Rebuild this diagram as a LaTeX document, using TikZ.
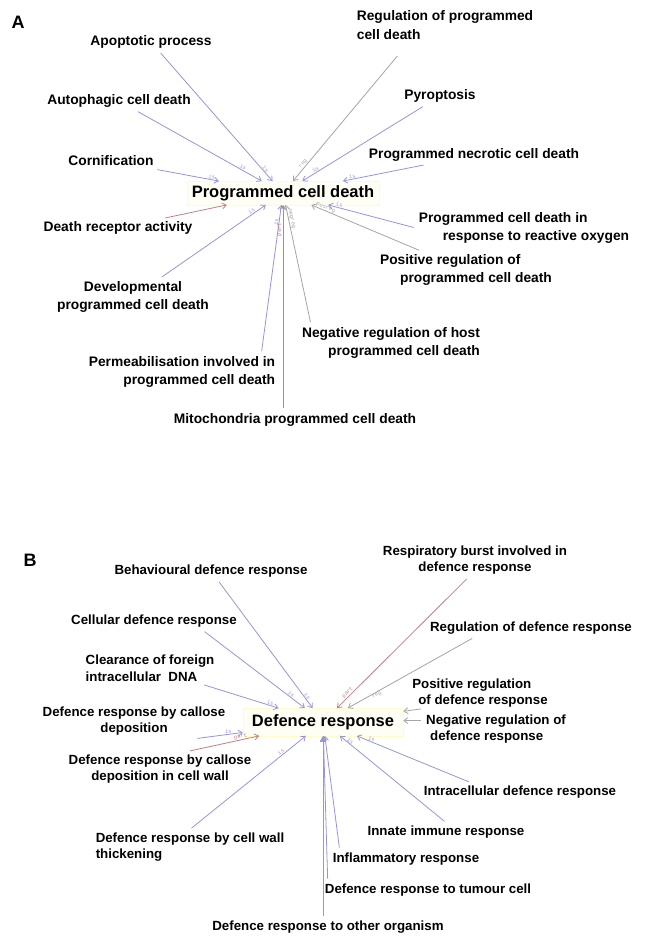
\documentclass[tikz,border=0pt]{standalone}
\usepackage{fontspec}
\setmainfont{Liberation Sans}
\setmonofont{Liberation Mono}
\usetikzlibrary{arrows.meta}
\definecolor{eblue}{RGB}{150,150,215}
\definecolor{egray}{RGB}{165,165,165}
\definecolor{ered}{RGB}{190,130,130}
\begin{document}
\begin{tikzpicture}[x=1pt,y=-1pt,
  lblA/.style={font=\fontsize{13.8}{18.5}\selectfont\bfseries, inner sep=3pt},
  lblB/.style={font=\fontsize{13.3}{16.5}\selectfont\bfseries, inner sep=3pt},
  hub/.style={font=\fontsize{16.5}{18}\selectfont\bfseries, draw=yellow!20, fill=yellow!4, inner xsep=5pt, inner ysep=4pt},
  panel/.style={font=\fontsize{18}{20}\selectfont\bfseries},
  conn/.style={line width=0.8pt, shorten <=2pt, -{Straight Barb[length=4pt,width=6pt]}},
  isa/.style={conn, color=eblue},
  rega/.style={conn, color=egray},
  parta/.style={conn, color=ered},
  elab/.style={font=\fontsize{5.5}{6}\selectfont\ttfamily, inner sep=0.5pt, sloped, above, pos=0.88}
]
\path[use as bounding box, fill=white] (0,0) rectangle (650,945);

% ---------------- Panel A ----------------
\node[panel] (pA) at (18,22) {A};
\node[hub] (pcd) at (283,193) {Programmed cell death};
\node[lblA] (apop) at (151,42) {Apoptotic process};
\node[lblA] (autoph) at (119,101) {Autophagic cell death};
\node[lblA] (corn) at (111,161) {Cornification};
\node[lblA] (deathrec) at (118,228) {Death receptor activity};
\node[lblA, align=center] (devel) at (133,297) {Developmental\\programmed cell death};
\node[lblA, align=right] (perm) at (182,372) {Permeabilisation involved in\\programmed cell death};
\node[lblA] (mito) at (295,420) {Mitochondria programmed cell death};
\node[lblA, align=right] (negreg) at (391,343) {Negative regulation of host\\programmed cell death};
\node[lblA, align=left] (posreg) at (466,270) {Positive regulation of\\\hspace*{20pt}programmed cell death};
\node[lblA, align=left] (pcdros) at (524,228) {Programmed cell death in\\\hspace*{24pt}response to reactive oxygen};
\node[lblA] (necro) at (474,155) {Programmed necrotic cell death};
\node[lblA] (pyro) at (440,96) {Pyroptosis};
\node[lblA, align=left] (regpcd) at (445,25) {Regulation of programmed\\cell death};

\draw[isa] (apop) -- node[elab, pos=0.92]{is} (pcd);
\draw[isa] (autoph) -- node[elab, pos=0.84]{is} (pcd);
\draw[isa] (corn) -- node[elab]{is} (pcd);
\draw[parta] (deathrec) -- (pcd);
\draw[isa] (devel) -- node[elab]{is} (pcd);
\draw[isa] ([xshift=-17pt]perm.north east) -- node[elab]{is} (pcd);
\draw[parta] (mito.north -| pcd) -- node[elab]{part} (pcd);
\draw[rega] ([xshift=12pt]negreg.north west) -- node[elab]{negreg} (pcd);
\draw[rega] (posreg) -- node[elab]{posreg} (pcd);
\draw[isa] (pcdros.west) -- node[elab]{is} (pcd);
\draw[isa] (necro) -- node[elab]{is} (pcd);
\draw[isa] (pyro) -- node[elab]{is} (pcd);
\draw[rega] ([xshift=45pt,yshift=-12pt]regpcd.south west) -- node[elab]{reg} (pcd);

% ---------------- Panel B ----------------
\node[panel] (pB) at (30,560) {B};
\node[hub, inner xsep=9pt, inner ysep=6pt] (dr) at (323,722) {Defence response};
\node[lblB] (behav) at (211,571) {Behavioural defence response};
\node[lblB] (cell) at (154,621) {Cellular defence response};
\node[lblB, align=left] (clear) at (150,668) {Clearance of foreign\\intracellular\ \ DNA};
\node[lblB, align=center] (callose) at (134,721) {Defence response by callose\\deposition};
\node[lblB, align=center] (callosecw) at (160,769) {Defence response by callose\\deposition in cell wall};
\node[lblB, align=left] (thick) at (190,847) {Defence response by cell wall\\thickening};
\node[lblB] (other) at (328,927) {Defence response to other organism};
\node[lblB] (tumour) at (428,890) {Defence response to tumour cell};
\node[lblB] (inflam) at (406,859) {Inflammatory response};
\node[lblB] (innate) at (446,832) {Innate immune response};
\node[lblB] (intra) at (520,792) {Intracellular defence response};
\node[lblB, align=left] (neg) at (496,729) {Negative regulation of\\\hspace*{4pt}defence response};
\node[lblB, align=left] (pos) at (480,693) {Positive regulation\\\hspace*{6pt}of defence response};
\node[lblB] (regdef) at (531,628) {Regulation of defence response};
\node[lblB, align=center] (resp) at (475,560) {Respiratory burst involved in\\defence response};

\draw[isa] (behav) -- node[elab, pos=0.92]{is} (dr);
\draw[isa] ([xshift=49pt]cell.south) -- node[elab, pos=0.85]{is} (dr);
\draw[isa] (clear) -- node[elab]{is} (dr);
\draw[isa] ([xshift=-33pt]callose.south east) -- node[elab, pos=0.7]{is} (dr);
\draw[parta] ([xshift=28pt]callosecw.north) -- node[elab, pos=0.75]{part} (dr);
\draw[isa] (thick.north) -- node[elab, pos=0.8]{is} (dr);
\draw[isa, -{Triangle[length=6pt,width=6pt]}] (other.north -| dr) -- (dr);
\draw[isa] ([xshift=6pt]tumour.north west) -- (dr);
\draw[isa] ([xshift=10pt]inflam.north west) -- (dr);
\draw[isa] (innate.north) -- node[elab, pos=0.92]{is} (dr);
\draw[isa] ([xshift=50pt]intra.north west) -- node[elab]{is} (dr);
\draw[rega] ([xshift=14pt,yshift=2pt]pos.south west) -- (dr);
\draw[rega] ([yshift=-9pt]neg.north west) -- (dr);
\draw[rega] ([xshift=47pt]regdef.south west) -- node[elab, pos=0.78, below]{reg} (dr);
\draw[parta] ([xshift=-7pt]resp.south) -- node[elab, pos=0.9]{part} (dr);
\end{tikzpicture}
\end{document}
